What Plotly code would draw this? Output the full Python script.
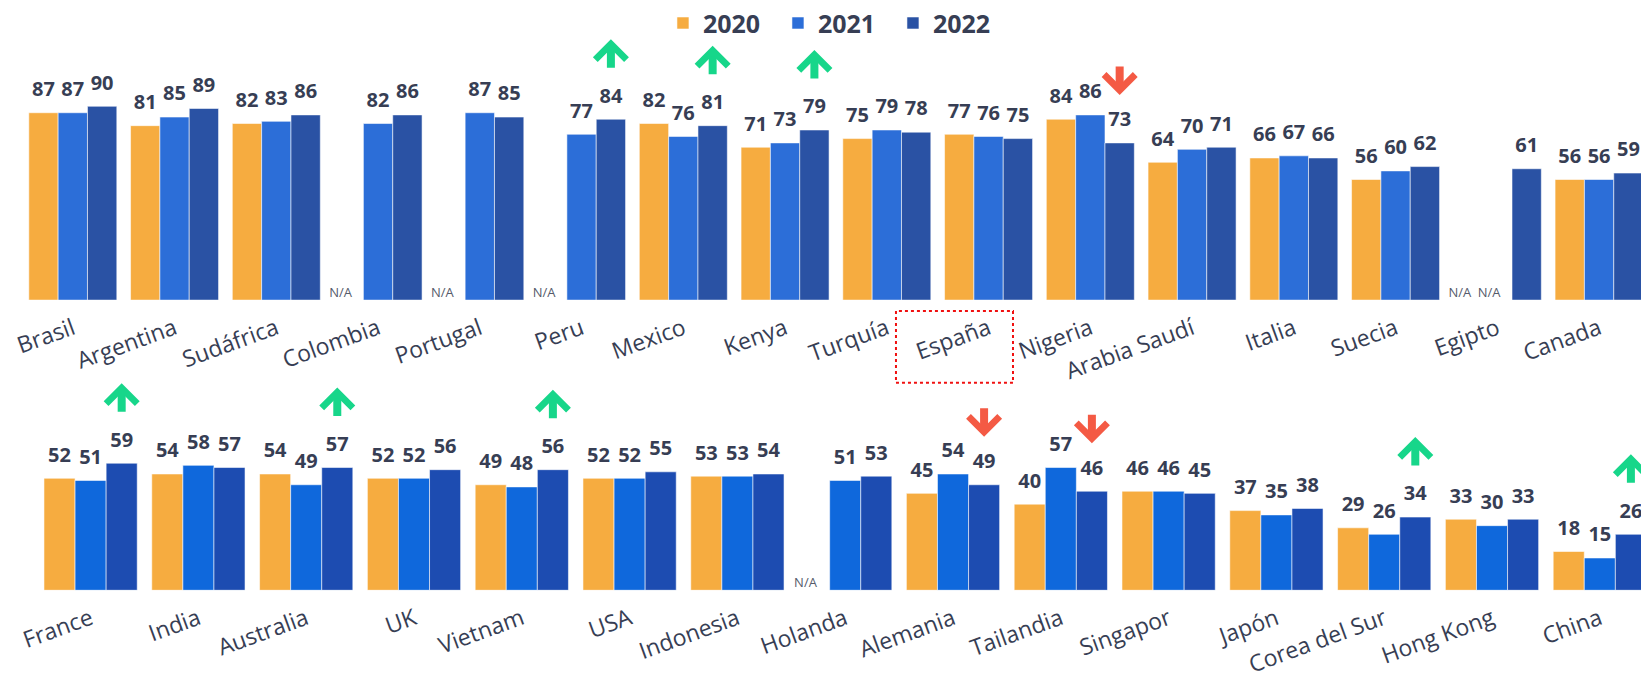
import plotly.graph_objects as go

years = ["2020", "2021", "2022"]

top_countries = ["Brasil", "Argentina", "Sudáfrica", "Colombia", "Portugal", "Peru", "Mexico", "Kenya",
                 "Turquía", "España", "Nigeria", "Arabia Saudí", "Italia", "Suecia", "Egipto", "Canada"]
top_2020 = [87, 81, 82, None, None, None, 82, 71, 75, 77, 84, 64, 66, 56, None, 56]
top_2021 = [87, 85, 83, 82, 87, 77, 76, 73, 79, 76, 86, 70, 67, 60, None, 56]
top_2022 = [90, 89, 86, 86, 85, 84, 81, 79, 78, 75, 73, 71, 66, 62, 61, 59]

bottom_countries = ["France", "India", "Australia", "UK", "Vietnam", "USA", "Indonesia", "Holanda",
                    "Alemania", "Tailandia", "Singapor", "Japón", "Corea del Sur", "Hong Kong", "China"]
bottom_2020 = [52, 54, 54, 52, 49, 52, 53, None, 45, 40, 46, 37, 29, 33, 18]
bottom_2021 = [51, 58, 49, 52, 48, 52, 53, 51, 54, 57, 46, 35, 26, 30, 15]
bottom_2022 = [59, 57, 57, 56, 56, 55, 54, 53, 49, 46, 45, 38, 34, 33, 26]

top_up = ["Peru", "Mexico", "Kenya"]
top_down = ["Nigeria"]
bottom_up = ["France", "Australia", "Vietnam", "Corea del Sur", "China"]
bottom_down = ["Alemania", "Tailandia"]
highlight = "España"

top_colors = ["#F6AC40", "#2C6ED8", "#2A52A4"]
bottom_colors = ["#F6AC40", "#0F68DC", "#1D4CB1"]
TEXT = "#373E54"
GREEN = "#17D68A"
RED = "#F45A44"
FONT = "Open Sans"

BARGAP = 0.135
W = (1 - BARGAP) / 3

fig = go.Figure()

rows = [
    dict(countries=top_countries, series=[top_2020, top_2021, top_2022], colors=top_colors,
         xa="x", ya="y", legend=True, up=top_up, down=top_down),
    dict(countries=bottom_countries, series=[bottom_2020, bottom_2021, bottom_2022], colors=bottom_colors,
         xa="x2", ya="y2", legend=False, up=bottom_up, down=bottom_down),
]

annotations = []
for row in rows:
    n = len(row["countries"])
    idx = list(range(n))
    for j, (yr, vals, col) in enumerate(zip(years, row["series"], row["colors"])):
        fig.add_trace(go.Bar(
            x=idx, y=vals, name=yr, marker_color=col,
            marker_line=dict(width=1, color="rgba(255,255,255,0.55)"),
            xaxis=row["xa"], yaxis=row["ya"], legendgroup=yr, showlegend=row["legend"],
            hoverinfo="skip"))
        off = (j - 1) * W
        lx = [i + off for i, v in enumerate(vals) if v is not None]
        ly = [v for v in vals if v is not None]
        fig.add_trace(go.Scatter(
            x=lx, y=ly, text=[str(v) for v in ly], mode="markers+text",
            textposition="top center", marker=dict(size=17, color="rgba(0,0,0,0)"),
            textfont=dict(family=FONT, size=20, color=TEXT, weight="bold"),
            xaxis=row["xa"], yaxis=row["ya"], showlegend=False, hoverinfo="skip", cliponaxis=False))
        nx = [i + off - 0.08 for i, v in enumerate(vals) if v is None]
        if nx:
            fig.add_trace(go.Scatter(
                x=nx, y=[0] * len(nx), text=["N/A"] * len(nx), mode="text",
                textposition="top center",
                textfont=dict(family=FONT, size=13, color="#555B6B"),
                xaxis=row["xa"], yaxis=row["ya"], showlegend=False, hoverinfo="skip", cliponaxis=False))
    last = row["series"][2]
    for name in row["up"] + row["down"]:
        i = row["countries"].index(name)
        up = name in row["up"]
        annotations.append(dict(
            x=i + W, y=last[i], xref=row["xa"], yref=row["ya"], text="",
            showarrow=True, arrowhead=4, arrowwidth=8, arrowsize=0.75,
            arrowcolor=GREEN if up else RED, ax=0, ay=30 if up else -30,
            yshift=80 if up else 48))

hi = top_countries.index(highlight)

axis_common = dict(showgrid=False, zeroline=False, showline=False, ticks="",
                   tickangle=-20, tickfont=dict(family=FONT, size=23, color=TEXT),
                   ticklabelstandoff=10)

fig.update_layout(
    width=1641, height=687,
    margin=dict(l=0, r=0, t=0, b=0),
    paper_bgcolor="white", plot_bgcolor="white",
    barmode="group", bargap=BARGAP, bargroupgap=0,
    font=dict(family=FONT, color=TEXT),
    xaxis=dict(domain=[0, 1], range=[-0.7155, 15.412], tickvals=list(range(len(top_countries))),
               ticktext=top_countries, anchor="y", **axis_common),
    yaxis=dict(domain=[0.5648, 0.8792], range=[0, 100], visible=False),
    xaxis2=dict(domain=[0, 1], range=[-0.8404, 14.382], tickvals=list(range(len(bottom_countries))),
                ticktext=bottom_countries, anchor="y2", **axis_common),
    yaxis2=dict(domain=[0.1412, 0.4556], range=[0, 100], visible=False),
    legend=dict(orientation="h", x=0.404, xanchor="left", y=0.969, yanchor="middle",
                font=dict(family=FONT, size=25, color=TEXT, weight="bold"),
                entrywidth=70, entrywidthmode="pixels",
                bgcolor="rgba(0,0,0,0)", traceorder="normal"),
    annotations=annotations,
    shapes=[dict(type="rect", xref="x", yref="paper", x0=hi - 0.91, x1=hi + 0.24,
                 y0=0.444, y1=0.549, line=dict(color="#F01010", width=2, dash="dot"))],
    showlegend=True,
)

fig.write_html("out.html")
